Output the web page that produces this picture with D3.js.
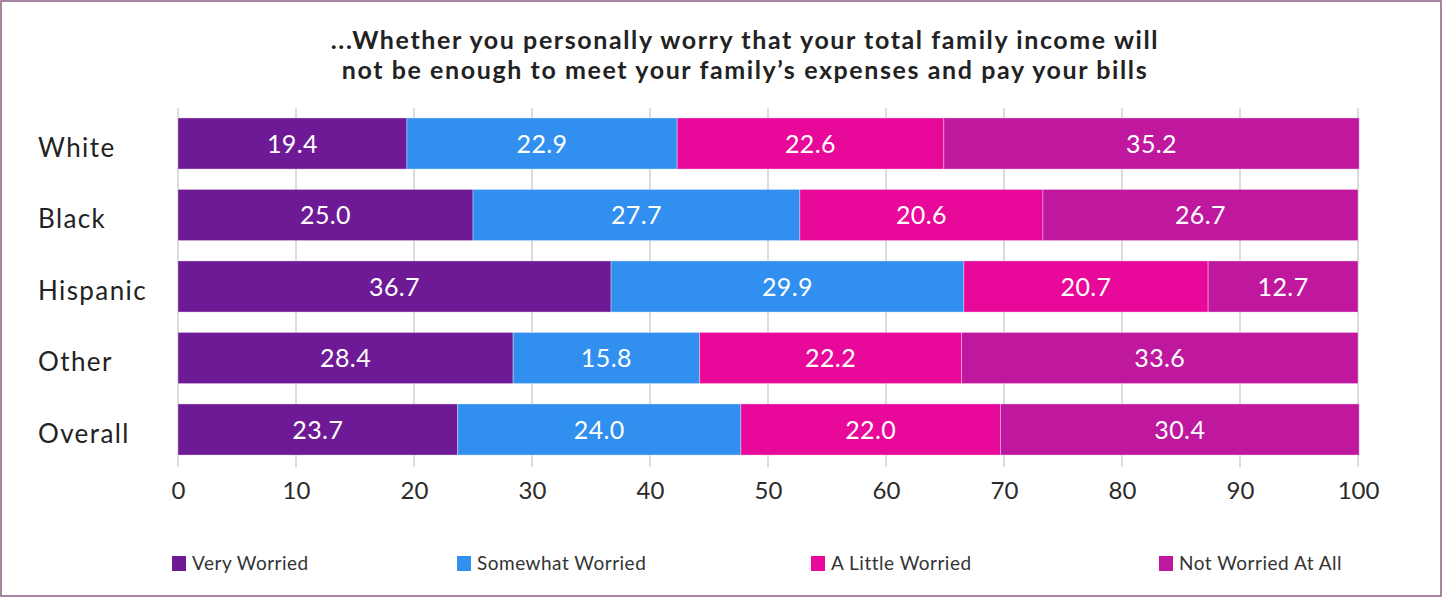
<!DOCTYPE html>
<html>
<head>
<meta charset="utf-8">
<script src="https://cdn.jsdelivr.net/npm/d3@7"></script>
<style>
  html, body { margin: 0; padding: 0; background: #fff; }
  svg { display: block; }
  text { font-family: Lato, "Noto Sans", sans-serif; }
</style>
</head>
<body>
<svg id="chart" width="1442" height="597"></svg>
<script>
// Survey responses by group (percent of respondents)
const categories = ["White", "Black", "Hispanic", "Other", "Overall"];
const seriesNames = ["Very Worried", "Somewhat Worried", "A Little Worried", "Not Worried At All"];
const veryWorried     = [19.4, 25.0, 36.7, 28.4, 23.7];
const somewhatWorried = [22.9, 27.7, 29.9, 15.8, 24.0];
const littleWorried   = [22.6, 20.6, 20.7, 22.2, 22.0];
const notWorried      = [35.2, 26.7, 12.7, 33.6, 30.4];
const xTicks = [0, 10, 20, 30, 40, 50, 60, 70, 80, 90, 100];
const titleLines = [
  "...Whether you personally worry that your total family income will",
  "not be enough to meet your family\u2019s expenses and pay your bills"
];

const colors = ["#6e1a96", "#318ff0", "#e8089a", "#c0179f"];
const seriesValues = [veryWorried, somewhatWorried, littleWorried, notWorried];

const rows = categories.map((c, i) => {
  const r = { category: c };
  seriesNames.forEach((s, k) => { r[s] = seriesValues[k][i]; });
  return r;
});

const svg = d3.select("#chart");
const W = 1442, H = 597;

// outer frame
svg.append("rect")
  .attr("x", 1).attr("y", 1)
  .attr("width", W - 2).attr("height", H - 2)
  .attr("fill", "#fff")
  .attr("stroke", "#8a5c80")
  .attr("stroke-width", 1.5);

// title
svg.append("g").selectAll("text")
  .data(titleLines)
  .join("text")
  .attr("x", 745)
  .attr("y", (d, i) => 48.5 + i * 30)
  .attr("text-anchor", "middle")
  .attr("font-size", 25)
  .attr("font-weight", 700)
  .attr("letter-spacing", 1.6)
  .attr("fill", "#222")
  .text(d => d);

const x = d3.scaleLinear().domain([0, 100]).range([178, 1358]);
const y = d3.scaleBand().domain(categories).range([107.75, 465.25])
  .paddingInner(0.285).paddingOuter(0.1425);

// vertical grid lines
svg.append("g").selectAll("line")
  .data(xTicks)
  .join("line")
  .attr("x1", d => x(d)).attr("x2", d => x(d))
  .attr("y1", 108).attr("y2", 467)
  .attr("stroke", "#dcdcdc")
  .attr("stroke-width", 2);

// stacked bars
const stack = d3.stack().keys(seriesNames)(rows);
const layers = svg.append("g").selectAll("g")
  .data(stack)
  .join("g")
  .attr("fill", (d, i) => colors[i]);

layers.selectAll("rect")
  .data(d => d)
  .join("rect")
  .attr("x", d => x(d[0]))
  .attr("y", d => y(d.data.category))
  .attr("width", d => x(d[1]) - x(d[0]))
  .attr("height", y.bandwidth())
  .attr("stroke", "rgba(255,255,255,0.35)")
  .attr("stroke-width", 1);

layers.selectAll("text")
  .data(d => d.map(v => ({ v, key: d.key })))
  .join("text")
  .attr("x", d => (x(d.v[0]) + x(d.v[1])) / 2)
  .attr("y", d => y(d.v.data.category) + y.bandwidth() / 2)
  .attr("dy", "0.36em")
  .attr("text-anchor", "middle")
  .attr("font-size", 25)
  .attr("letter-spacing", 0.4)
  .attr("fill", "#fff")
  .text(d => d3.format(".1f")(d.v.data[d.key]));

// category labels
svg.append("g").selectAll("text")
  .data(categories)
  .join("text")
  .attr("x", 38)
  .attr("y", d => y(d) + y.bandwidth() / 2 + 4)
  .attr("dy", "0.36em")
  .attr("font-size", 26)
  .attr("letter-spacing", 1.4)
  .attr("fill", "#222")
  .text(d => d);

// x axis
const xAxis = svg.append("g")
  .attr("transform", "translate(0,482)")
  .call(d3.axisBottom(x).tickValues(xTicks).tickSize(0).tickPadding(0));
xAxis.select(".domain").remove();
xAxis.selectAll("text")
  .attr("font-size", 24)
  .attr("fill", "#2a2a2a")
  .attr("dy", "0.71em")
  .style("font-family", "Lato, 'Noto Sans', sans-serif");

// legend
const legendX = [172, 457, 811, 1159];
const legend = svg.append("g").selectAll("g")
  .data(seriesNames)
  .join("g")
  .attr("transform", (d, i) => `translate(${legendX[i]},556)`);
legend.append("rect")
  .attr("width", 14).attr("height", 15)
  .attr("fill", (d, i) => colors[i]);
legend.append("text")
  .attr("x", 20).attr("y", 7.5)
  .attr("dy", "0.36em")
  .attr("font-size", 19)
  .attr("letter-spacing", 0.5)
  .attr("fill", "#333")
  .text(d => d);
</script>
</body>
</html>
